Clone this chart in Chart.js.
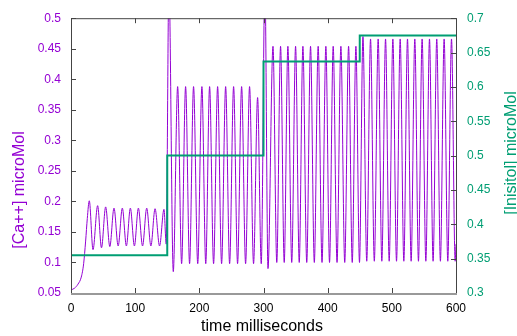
<!DOCTYPE html>
<html>
<head>
<meta charset="utf-8">
<script src="https://cdn.jsdelivr.net/npm/chart.js@4.4.0/dist/chart.umd.min.js"></script>
<style>
  body { margin: 0; background: #fff; }
  canvas { display: block; }
</style>
</head>
<body>
<canvas id="out" width="517" height="336"></canvas>
<script>
// [Ca++] trace, peaks and troughs (ms, microMol)
const caTime = [
  0, 5.7, 10.9, 16, 19.7, 22.8, 25.4, 28.5,
  34.3, 41.5, 47.5, 54, 60.5, 67, 73.5, 80, 86.3, 92.5, 98.8, 105,
  111.5, 118, 124.5, 131, 138, 144.9, 148.4,
  152.6, 159.4, 166.2, 172.4, 178.6, 184.8, 191, 197.5, 204, 210,
  216, 222.2, 228.5, 234.7, 241, 247.2, 253.4, 259.6, 265.9, 272.1,
  278.3, 284.5, 290.8, 296.5,
  302.2, 307, 314.8, 320.7, 326.6, 332.3, 338, 344, 350, 355.7,
  361.4, 367.4, 373.3, 379.2, 385.2, 391.2, 397.2, 402.9, 408.6, 414.6,
  420.6, 426.6, 432.6, 438.3, 444, 449.6,
  455, 460.9, 466.8, 472.7, 478.7, 484.4, 490.2, 495.9, 501.6, 507.3,
  513, 518.7, 524.4, 530.1, 535.8, 541.5, 547.2, 553, 558.7, 564.3,
  570, 575.7, 581.5, 587.2, 593, 598.7, 600
];
const caValue = [
  0.055, 0.058, 0.0645, 0.076, 0.098, 0.135, 0.172, 0.201,
  0.121, 0.193, 0.124, 0.191, 0.126, 0.189, 0.127, 0.189, 0.127, 0.189, 0.127, 0.189,
  0.127, 0.189, 0.127, 0.188, 0.127, 0.187, 0.13,
  0.56, 0.085, 0.388, 0.098, 0.388, 0.098, 0.388, 0.098, 0.388, 0.098,
  0.388, 0.098, 0.388, 0.098, 0.388, 0.098, 0.388, 0.098, 0.388, 0.098,
  0.388, 0.098, 0.37, 0.098,
  0.56, 0.09, 0.454, 0.1, 0.454, 0.1, 0.454, 0.1, 0.454, 0.1,
  0.454, 0.1, 0.454, 0.1, 0.454, 0.1, 0.454, 0.1, 0.454, 0.1,
  0.454, 0.1, 0.454, 0.1, 0.454, 0.1,
  0.47, 0.102, 0.466, 0.102, 0.466, 0.102, 0.466, 0.102, 0.466, 0.102,
  0.466, 0.102, 0.466, 0.102, 0.466, 0.102, 0.466, 0.102, 0.466, 0.102,
  0.466, 0.102, 0.466, 0.102, 0.466, 0.102, 0.13
];

// [Inositol] steps
const ipTime = [0, 150, 300, 450, 600];
const ipValue = [0.355, 0.5, 0.637, 0.675, 0.675];

const purple = "#9400d3";
const green = "#009e73";
const font = "'Liberation Sans', Arial, sans-serif";

const fmt = v => String(Math.round(v * 100) / 100);

// frame, inward tick marks and axis titles like gnuplot
const gnuplotFrame = {
  id: "gnuplotFrame",
  afterDatasetsDraw(chart) {
    const { ctx, chartArea: a, scales } = chart;
    const len = 5;
    ctx.save();
    ctx.strokeStyle = "#444";
    ctx.lineWidth = 1;
    ctx.beginPath();
    scales.x.ticks.forEach(t => {
      const px = Math.round(scales.x.getPixelForValue(t.value)) + 0.5;
      ctx.moveTo(px, a.bottom); ctx.lineTo(px, a.bottom - len);
      ctx.moveTo(px, a.top); ctx.lineTo(px, a.top + len);
    });
    scales.y.ticks.forEach(t => {
      const py = Math.round(scales.y.getPixelForValue(t.value)) + 0.5;
      ctx.moveTo(a.left, py); ctx.lineTo(a.left + len, py);
    });
    scales.y1.ticks.forEach(t => {
      const py = Math.round(scales.y1.getPixelForValue(t.value)) + 0.5;
      ctx.moveTo(a.right, py); ctx.lineTo(a.right - len, py);
    });
    ctx.stroke();

    ctx.beginPath();
    ctx.moveTo(a.left + 0.5, a.bottom);
    ctx.lineTo(a.left + 0.5, a.top + 0.5);
    ctx.lineTo(a.right + 0.5, a.top + 0.5);
    ctx.lineTo(a.right + 0.5, a.bottom);
    ctx.stroke();
    ctx.strokeStyle = "#999";
    ctx.lineWidth = 2;
    ctx.beginPath();
    ctx.moveTo(a.left, a.bottom + 1);
    ctx.lineTo(a.right + 1, a.bottom + 1);
    ctx.stroke();

    ctx.font = "16px " + font;
    ctx.textAlign = "center";
    ctx.textBaseline = "alphabetic";
    ctx.fillStyle = "#000";
    ctx.fillText("time milliseconds", 262, 331);

    ctx.fillStyle = purple;
    ctx.translate(24, 190);
    ctx.rotate(-Math.PI / 2);
    ctx.fillText("[Ca++] microMol", 0, 0);
    ctx.setTransform(1, 0, 0, 1, 0, 0);

    ctx.fillStyle = green;
    ctx.translate(516, 153);
    ctx.rotate(-Math.PI / 2);
    ctx.fillText("[Inisitol] microMol", 0, 0);
    ctx.restore();
  }
};

const canvasCtx = document.getElementById("out").getContext("2d");

new Chart(canvasCtx, {
  type: "line",
  data: {
    datasets: [
      {
        label: "[Inositol]",
        data: ipTime.map((t, i) => ({ x: t, y: ipValue[i] })),
        yAxisID: "y1",
        borderColor: green,
        borderWidth: 2,
        stepped: "before",
        pointRadius: 0,
        clip: 0,
        order: 0
      },
      {
        label: "[Ca++]",
        data: caTime.map((t, i) => ({ x: t, y: caValue[i] })),
        yAxisID: "y",
        borderColor: purple,
        borderWidth: 1,
        cubicInterpolationMode: "monotone",
        pointRadius: 0,
        clip: 0,
        order: 1
      }
    ]
  },
  options: {
    responsive: false,
    animation: false,
    layout: { padding: { top: 13, left: 0, right: 0, bottom: 0 } },
    plugins: { legend: { display: false }, tooltip: { enabled: false } },
    scales: {
      x: {
        type: "linear",
        min: 0, max: 600,
        afterFit: s => { s.height = 43; },
        grid: { display: false, drawTicks: false },
        border: { display: false },
        ticks: { stepSize: 100, padding: 8, color: "#000", font: { family: font, size: 12 } }
      },
      y: {
        position: "left",
        min: 0.05, max: 0.5,
        afterFit: s => { s.width = 71; },
        grid: { display: false, drawTicks: false },
        border: { display: false },
        ticks: { stepSize: 0.05, padding: 10, color: purple, callback: fmt, font: { family: font, size: 12 } }
      },
      y1: {
        position: "right",
        min: 0.3, max: 0.7,
        afterFit: s => { s.width = 61; },
        grid: { display: false, drawTicks: false },
        border: { display: false },
        ticks: { stepSize: 0.05, padding: 11, color: green, callback: fmt, font: { family: font, size: 12 } }
      }
    }
  },
  plugins: [gnuplotFrame]
});
</script>
</body>
</html>
